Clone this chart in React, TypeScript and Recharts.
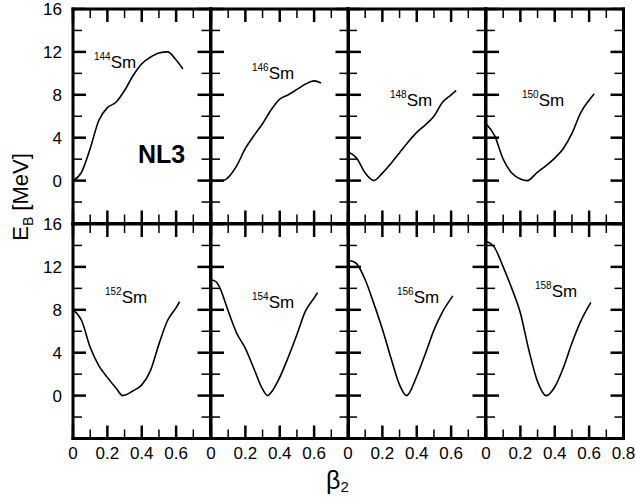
import React from 'react';
import { LineChart, Line, XAxis, YAxis } from 'recharts';

// beta_2 deformation grid and binding energy E_B (MeV) per isotope
const beta144 = [0, 0.05, 0.1, 0.15, 0.2, 0.25, 0.3, 0.35, 0.4, 0.45, 0.5, 0.55, 0.6, 0.64];
const eb144 = [0, 0.8, 3.0, 5.6, 6.8, 7.3, 8.4, 9.8, 10.9, 11.5, 11.9, 12.0, 11.25, 10.4];

const beta146 = [0, 0.05, 0.08, 0.1, 0.15, 0.2, 0.25, 0.3, 0.35, 0.4, 0.45, 0.5, 0.55, 0.6, 0.64];
const eb146 = [0, 0, 0.05, 0.3, 1.4, 3.0, 4.2, 5.3, 6.6, 7.6, 8.0, 8.5, 9.0, 9.3, 9.1];

const beta148 = [0, 0.05, 0.1, 0.15, 0.2, 0.25, 0.3, 0.35, 0.4, 0.45, 0.5, 0.55, 0.6, 0.63];
const eb148 = [2.7, 2.1, 0.7, 0.0, 0.7, 1.6, 2.6, 3.6, 4.5, 5.2, 6.0, 7.3, 8.0, 8.4];

const beta150 = [0, 0.05, 0.1, 0.15, 0.2, 0.24, 0.3, 0.35, 0.4, 0.45, 0.5, 0.55, 0.6, 0.63];
const eb150 = [5.3, 4.2, 2.0, 0.7, 0.15, 0, 0.8, 1.4, 2.1, 3.0, 4.4, 6.3, 7.5, 8.1];

const beta152 = [0, 0.05, 0.1, 0.15, 0.2, 0.25, 0.29, 0.35, 0.4, 0.45, 0.5, 0.55, 0.6, 0.62];
const eb152 = [8.0, 7.0, 4.5, 2.8, 1.7, 0.7, 0.0, 0.45, 1.0, 2.3, 4.8, 7.0, 8.2, 8.75];

const beta154 = [0, 0.03, 0.05, 0.1, 0.15, 0.2, 0.25, 0.3, 0.33, 0.35, 0.4, 0.45, 0.5, 0.55, 0.6, 0.62];
const eb154 = [10.8, 10.6, 10.1, 7.9, 5.8, 4.4, 2.5, 0.6, 0, 0.3, 1.7, 3.6, 5.7, 7.9, 9.1, 9.6];

const beta156 = [0, 0.03, 0.05, 0.1, 0.15, 0.2, 0.25, 0.3, 0.34, 0.4, 0.45, 0.5, 0.55, 0.61];
const eb156 = [12.6, 12.5, 12.3, 10.8, 8.6, 6.2, 3.5, 1.0, 0, 1.8, 3.9, 6.1, 7.8, 9.3];

const beta158 = [0, 0.05, 0.1, 0.15, 0.2, 0.25, 0.3, 0.35, 0.4, 0.45, 0.5, 0.55, 0.61];
const eb158 = [14.4, 13.8, 12.0, 10.0, 7.7, 4.2, 1.3, 0, 0.8, 2.6, 4.9, 6.9, 8.7];

const masses = ['144', '146', '148', '150', '152', '154', '156', '158'];
const betas = [beta144, beta146, beta148, beta150, beta152, beta154, beta156, beta158];
const energies = [eb144, eb146, eb148, eb150, eb152, eb154, eb156, eb158];

const xTicks = [0, 0.1, 0.2, 0.3, 0.4, 0.5, 0.6, 0.7, 0.8];
const yTicks = [-4, -2, 0, 2, 4, 6, 8, 10, 12, 14, 16];

// layout
const PLOT_L = 73.3;
const PLOT_T = 9;
const PW = 137.5;
const PH = 214.5;
const M = 45;
const FONT = '"Liberation Sans", Arial, Helvetica, sans-serif';
const labelPos = [
  [94, 68], [252, 79], [390, 106], [522, 106],
  [105, 303], [252, 308], [397, 303], [535, 297],
];

const axisStyle = { stroke: '#000', strokeWidth: 3, strokeLinecap: 'square' as const };

function tickLine(x1: number, y1: number, x2: number, y2: number, major: boolean) {
  return <line x1={x1} y1={y1} x2={x2} y2={y2} stroke="#000" strokeWidth={major ? 2.5 : 1.5} />;
}

function Panel({ idx }: { idx: number }) {
  const row = Math.floor(idx / 4);
  const col = idx % 4;
  const data = betas[idx].map((b, i) => ({ b, e: energies[idx][i] }));
  const showY = col === 0;
  const showX = row === 1;

  const xTick = (dir: number, labels: boolean) => (p: any) => {
    const v = p.payload.value;
    const k = Math.round(v * 10);
    const major = k % 2 === 0;
    const len = major ? 13 : 9;
    const showLabel = labels && major && (k < 8 || col === 3);
    return (
      <g>
        {tickLine(p.x, p.y, p.x, p.y + dir * len, major)}
        {showLabel && (
          <text x={p.x} y={p.y + 20} textAnchor="middle" fontSize={17} fontFamily={FONT} fill="#000">
            {k === 0 ? '0' : (k / 10).toFixed(1)}
          </text>
        )}
      </g>
    );
  };

  const yTick = (dir: number, labels: boolean) => (p: any) => {
    const v = p.payload.value;
    const major = v % 4 === 0;
    const len = major ? 13 : 9;
    const showLabel = labels && major && v >= 0;
    return (
      <g>
        {tickLine(p.x, p.y, p.x + dir * len, p.y, major)}
        {showLabel && (
          <text x={p.x - 11} y={p.y + 6} textAnchor="end" fontSize={17} fontFamily={FONT} fill="#000">
            {v}
          </text>
        )}
      </g>
    );
  };

  // axes are 1px wide, so the plot box starts exactly at M
  return (
    <div style={{ position: 'absolute', left: PLOT_L + col * PW - M, top: PLOT_T + row * PH - M }}>
      <LineChart
        width={PW + 2 * M}
        height={PH + 2 * M}
        data={data}
        margin={{ top: M - 1, right: M - 1, bottom: M - 1, left: M - 1 }}
      >
        <XAxis
          xAxisId="b"
          type="number"
          dataKey="b"
          domain={[0, 0.8]}
          ticks={xTicks}
          interval={0}
          height={1}
          tickSize={0}
          tickMargin={0}
          allowDataOverflow
          axisLine={axisStyle}
          tickLine={false}
          tick={xTick(-1, showX)}
        />
        <XAxis
          xAxisId="t"
          orientation="top"
          type="number"
          dataKey="b"
          domain={[0, 0.8]}
          ticks={xTicks}
          interval={0}
          height={1}
          tickSize={0}
          tickMargin={0}
          allowDataOverflow
          axisLine={axisStyle}
          tickLine={false}
          tick={xTick(1, false)}
        />
        <YAxis
          yAxisId="l"
          type="number"
          domain={[-4, 16]}
          ticks={yTicks}
          interval={0}
          width={1}
          tickSize={0}
          tickMargin={0}
          allowDataOverflow
          axisLine={axisStyle}
          tickLine={false}
          tick={yTick(1, showY)}
        />
        <YAxis
          yAxisId="r"
          orientation="right"
          type="number"
          domain={[-4, 16]}
          ticks={yTicks}
          interval={0}
          width={1}
          tickSize={0}
          tickMargin={0}
          allowDataOverflow
          axisLine={axisStyle}
          tickLine={false}
          tick={yTick(-1, false)}
        />
        <Line
          xAxisId="b"
          yAxisId="l"
          type="monotone"
          dataKey="e"
          stroke="#000"
          strokeWidth={1.6}
          dot={false}
          isAnimationActive={false}
        />
      </LineChart>
    </div>
  );
}

export default function App() {
  return (
    <div style={{ position: 'absolute', left: 0, top: 0, width: 636, height: 502, background: '#fff' }}>
      {masses.map((_, i) => (
        <Panel key={i} idx={i} />
      ))}
      <svg
        width={636}
        height={502}
        style={{ position: 'absolute', left: 0, top: 0, pointerEvents: 'none' }}
        fontFamily={FONT}
      >
        {masses.map((m, i) => (
          <text key={m} x={labelPos[i][0]} y={labelPos[i][1]} fontSize={17} fill="#000">
            <tspan fontSize={10} dy={-8}>{m}</tspan>
            <tspan dy={8}>Sm</tspan>
          </text>
        ))}
        <text x={138} y={163} fontSize={25} fontWeight="bold" fill="#000">NL3</text>
        <text x={28} y={197} fontSize={22} textAnchor="middle" transform="rotate(-90 28 197)" fill="#000">
          E<tspan fontSize={14} dy={5}>B</tspan><tspan dy={-5}> [MeV]</tspan>
        </text>
        <text x={326} y={489} fontSize={25} fill="#000">
          β<tspan fontSize={15} dy={3}>2</tspan>
        </text>
      </svg>
    </div>
  );
}
